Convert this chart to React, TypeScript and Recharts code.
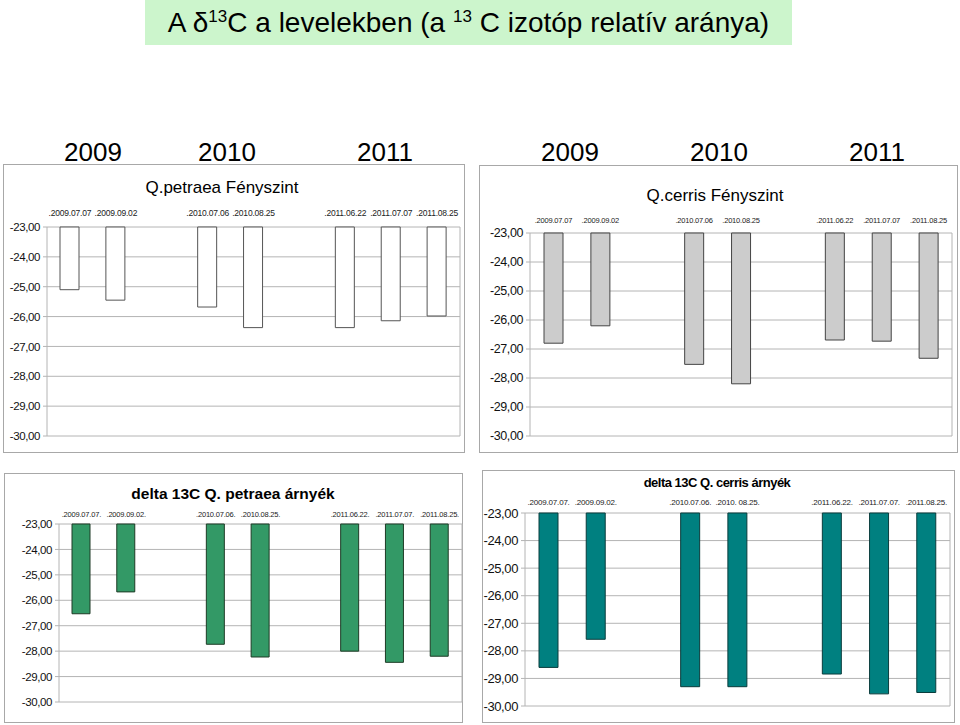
import React from "react"
import { BarChart, Bar, XAxis, YAxis, CartesianGrid } from "recharts"

// sampling dates, empty slots keep the gaps between the years
const dates = [".2009.07.07", ".2009.09.02", "", ".2010.07.06", ".2010.08.25", "", ".2011.06.22", ".2011.07.07", ".2011.08.25"]
const datesDot = [".2009.07.07.", ".2009.09.02.", "", ".2010.07.06.", ".2010.08.25.", "", ".2011.06.22.", ".2011.07.07.", ".2011.08.25."]
const datesDotCerris = [".2009.07.07.", ".2009.09.02.", "", ".2010.07.06.", ".2010. 08.25.", "", ".2011.06.22.", ".2011.07.07.", ".2011.08.25."]

const petraeaLight = [-25.1, -25.45, null, -25.68, -26.37, null, -26.37, -26.14, -25.98]
const cerrisLight = [-26.8, -26.2, null, -27.53, -28.2, null, -26.69, -26.73, -27.32]
const petraeaShade = [-26.53, -25.67, null, -27.73, -28.23, null, -28.0, -28.44, -28.2]
const cerrisShade = [-28.6, -27.58, null, -29.3, -29.3, null, -28.84, -29.56, -29.51]

const yTicks = [-30, -29, -28, -27, -26, -25, -24, -23]
const years = ["2009", "2010", "2011"]

const font = "'Liberation Sans', Arial, sans-serif"
const gridColor = "#b4b4b4"

type Box = { x: number; y: number; w: number; h: number }
type Plot = { l: number; t: number; r: number; b: number }

type PanelProps = {
  box: Box
  plot: Plot
  labels: string[]
  values: (number | null)[]
  title: string
  titleX: number
  titleY: number
  titleStyle: React.CSSProperties
  fill: string
  stroke: string
  barSize: number
  xFont: number
  xMargin: number
  yFont: number
  yWidth: number
}

const fmt = (v: number) => v.toFixed(2).replace(".", ",")

function Panel(p: PanelProps) {
  const data = p.labels.map((name, i) => ({ name, value: p.values[i] }))
  const xH = 20
  const margin = {
    top: p.plot.t - p.box.y - xH,
    left: p.plot.l - p.box.x - p.yWidth,
    right: p.box.x + p.box.w - p.plot.r - 1,
    bottom: p.box.y + p.box.h - p.plot.b,
  }
  return (
    <>
      <div
        style={{
          position: "absolute", left: p.box.x, top: p.box.y,
          width: p.box.w - 2, height: p.box.h - 2,
          border: "1px solid #a8a8a8",
        }}
      />
      <div style={{ position: "absolute", left: p.box.x, top: p.box.y }}>
        <BarChart width={p.box.w} height={p.box.h} data={data} margin={margin}>
          <CartesianGrid vertical={false} stroke={gridColor} />
          <XAxis
            dataKey="name"
            orientation="top"
            height={xH}
            interval={0}
            axisLine={false}
            tickLine={false}
            tickSize={0}
            tickMargin={p.xMargin}
            tick={{ fontSize: p.xFont, fill: "#222", fontFamily: font, letterSpacing: -0.2 }}
          />
          <YAxis
            type="number"
            domain={[-30, -23]}
            ticks={yTicks}
            width={p.yWidth}
            tickFormatter={fmt}
            axisLine={{ stroke: gridColor }}
            tickLine={{ stroke: gridColor }}
            tickSize={4}
            tickMargin={3}
            tick={{ fontSize: p.yFont, fill: "#111", fontFamily: font, letterSpacing: -0.4 }}
          />
          <YAxis
            yAxisId="border"
            orientation="right"
            type="number"
            domain={[-30, -23]}
            width={1}
            tick={false}
            tickLine={false}
            axisLine={{ stroke: gridColor }}
          />
          <Bar
            dataKey="value"
            fill={p.fill}
            stroke={p.stroke}
            strokeWidth={1}
            barSize={p.barSize}
            isAnimationActive={false}
          />
        </BarChart>
      </div>
      <div
        style={{
          position: "absolute", left: p.titleX, top: p.titleY,
          transform: "translate(-50%, -50%)", whiteSpace: "nowrap",
          lineHeight: 1, fontFamily: font, color: "#000", ...p.titleStyle,
        }}
      >
        {p.title}
      </div>
    </>
  )
}

export default function App() {
  const yearLefts = [[64, 198, 357], [541, 690, 849]]
  return (
    <div style={{ position: "absolute", left: 0, top: 0, width: 960, height: 725, background: "#fff", fontFamily: font, overflow: "hidden" }}>
      <div
        style={{
          position: "absolute", left: 145, top: 0, width: 647, height: 45,
          background: "#ccf5cc", display: "flex", alignItems: "center",
          justifyContent: "center", fontSize: 28, whiteSpace: "nowrap",
        }}
      >
        <span>
          A δ<sup style={{ fontSize: 17, verticalAlign: 10 }}>13</sup>C a levelekben (a <sup style={{ fontSize: 17, verticalAlign: 10 }}>13</sup> C izotóp relatív aránya)
        </span>
      </div>

      {yearLefts.map((row, r) =>
        row.map((x, i) => (
          <div key={`${r}-${i}`} style={{ position: "absolute", left: x, top: 139, fontSize: 26, lineHeight: 1 }}>
            {years[i]}
          </div>
        ))
      )}

      <Panel
        box={{ x: 3, y: 164, w: 462, h: 289 }}
        plot={{ l: 47, t: 227, r: 460, b: 436 }}
        labels={dates}
        values={petraeaLight}
        title="Q.petraea Fényszint"
        titleX={222}
        titleY={187}
        titleStyle={{ fontSize: 17 }}
        fill="#ffffff"
        stroke="#555555"
        barSize={19}
        xFont={8.5}
        xMargin={11}
        yFont={11.5}
        yWidth={40}
      />
      <Panel
        box={{ x: 479, y: 165, w: 479, h: 288 }}
        plot={{ l: 530, t: 233, r: 952, b: 436 }}
        labels={dates}
        values={cerrisLight}
        title="Q.cerris Fényszint"
        titleX={715}
        titleY={195}
        titleStyle={{ fontSize: 17 }}
        fill="#cccccc"
        stroke="#444444"
        barSize={19}
        xFont={7.5}
        xMargin={10}
        yFont={12.5}
        yWidth={45}
      />
      <Panel
        box={{ x: 4, y: 473, w: 459, h: 250 }}
        plot={{ l: 59, t: 524, r: 462, b: 702 }}
        labels={datesDot}
        values={petraeaShade}
        title="delta 13C Q. petraea árnyék"
        titleX={233}
        titleY={494}
        titleStyle={{ fontSize: 15.5, fontWeight: "bold" }}
        fill="#339966"
        stroke="#1e3b26"
        barSize={18}
        xFont={7.5}
        xMargin={7}
        yFont={11.5}
        yWidth={50}
      />
      <Panel
        box={{ x: 482, y: 470, w: 473, h: 253 }}
        plot={{ l: 525, t: 513, r: 950, b: 706 }}
        labels={datesDotCerris}
        values={cerrisShade}
        title="delta 13C Q. cerris árnyék"
        titleX={717}
        titleY={482}
        titleStyle={{ fontSize: 13, fontWeight: "bold", letterSpacing: -0.5 }}
        fill="#008080"
        stroke="#0a3c3c"
        barSize={19}
        xFont={8}
        xMargin={8}
        yFont={13}
        yWidth={40}
      />
    </div>
  )
}
